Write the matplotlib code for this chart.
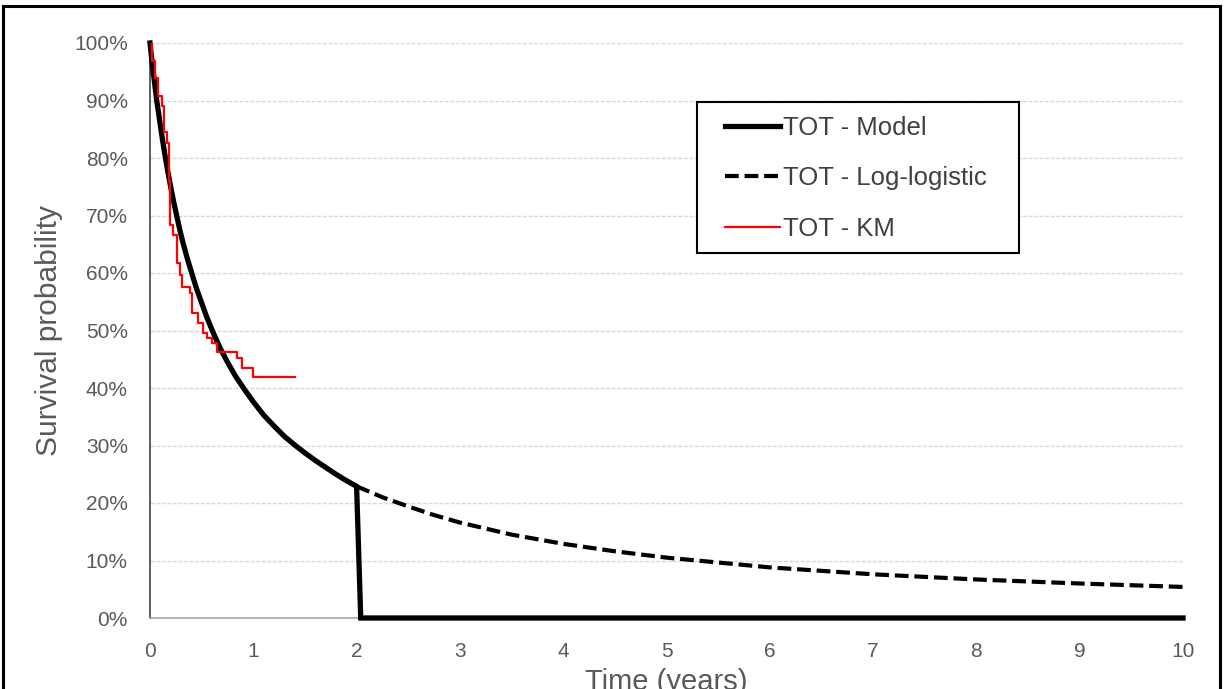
import matplotlib
matplotlib.use("Agg")
import matplotlib.pyplot as plt
from matplotlib.patches import Rectangle
from matplotlib.ticker import FuncFormatter

# Fitted model survival up to the end of follow-up (years, %)
model_time = [0, 0.015, 0.03, 0.045, 0.065, 0.08, 0.1, 0.12, 0.145, 0.17,
              0.2, 0.23, 0.258, 0.29, 0.32, 0.36, 0.4, 0.45, 0.5, 0.55,
              0.61, 0.68, 0.75, 0.83, 0.92, 1.0, 1.1, 1.2, 1.3, 1.4, 1.5,
              1.6, 1.7, 1.8, 1.9, 2.0, 2.04, 10.0]
model_surv = [100, 97.5, 95.2, 93.0, 90.0, 88.2, 85.7, 83.3, 80.5, 77.9,
              75.0, 72.3, 70.0, 67.4, 65.2, 62.6, 60.2, 57.3, 54.8, 52.3,
              49.7, 46.9, 44.5, 42.0, 39.6, 37.6, 35.3, 33.4, 31.6, 30.1, 28.7,
              27.4, 26.2, 25.0, 23.9, 22.9, 0.0, 0.0]

# Log-logistic extrapolation beyond two years (years, %)
loglog_time = [2.0, 2.25, 2.5, 2.75, 3.0, 3.5, 4.0, 4.5, 5.0, 6.0, 7.0, 8.0, 9.0, 10.0]
loglog_surv = [22.9, 21.0, 19.4, 17.9, 16.6, 14.5, 12.9, 11.6, 10.5, 8.8, 7.6, 6.7, 6.0, 5.4]

# Kaplan-Meier estimate (step times in years, survival %)
km_time = [0, 0.016, 0.05, 0.074, 0.113, 0.135, 0.16, 0.18, 0.19, 0.226,
           0.265, 0.29, 0.31, 0.387, 0.41, 0.468, 0.51, 0.55, 0.597, 0.645,
           0.84, 0.887, 1.0, 1.40]
km_surv = [100, 96.8, 94.0, 90.7, 89.0, 84.6, 82.6, 76.0, 68.3, 66.6,
           61.7, 59.6, 57.6, 56.5, 53.0, 51.3, 49.6, 48.7, 47.8, 46.3,
           45.2, 43.5, 42.0, 42.0]

x_ticks = list(range(0, 11))
y_ticks = list(range(0, 101, 10))

FONT = ["Liberation Sans Narrow", "Liberation Sans", "DejaVu Sans"]
TXT = "#595959"

W, H = 1224, 689
fig = plt.figure(figsize=(W / 100, H / 100), dpi=100)
fig.patch.set_facecolor("white")

# outer frame around the chart
fig.patches.append(Rectangle((3 / W, -0.05), (1220 - 3) / W, 1.05 - 6 / H,
                             transform=fig.transFigure, fill=False,
                             edgecolor="black", linewidth=2.2))

x0, x1, ytop, ybot = 150, 1183, 43, 618
ax = fig.add_axes([x0 / W, (H - ybot) / H, (x1 - x0) / W, (ybot - ytop) / H])
ax.set_xlim(0, 10)
ax.set_ylim(0, 100)

for s in ("top", "right"):
    ax.spines[s].set_visible(False)
ax.spines["left"].set_color("#404040")
ax.spines["left"].set_linewidth(1.2)
ax.spines["bottom"].set_color("#a6a6a6")
ax.spines["bottom"].set_linewidth(1.2)

ax.set_yticks(y_ticks)
ax.set_xticks(x_ticks)
ax.yaxis.set_major_formatter(FuncFormatter(lambda v, p: f"{int(v)}%"))
ax.tick_params(length=0, labelsize=15, labelcolor=TXT)
ax.tick_params(axis="y", pad=16)
ax.tick_params(axis="x", pad=17)
for lab in ax.get_xticklabels() + ax.get_yticklabels():
    lab.set_family(FONT)

ax.grid(axis="y", color="#d9d9d9", linewidth=1.0, linestyle=(0, (3, 1)))
ax.set_axisbelow(True)

ax.plot(loglog_time, loglog_surv, color="black", linewidth=3.0,
        linestyle=(0, (3.3, 1.4)), label="TOT - Log-logistic", zorder=3)
ax.plot(model_time, model_surv, color="black", linewidth=3.8,
        solid_joinstyle="miter", label="TOT - Model", zorder=4, clip_on=False)
ax.plot(km_time, km_surv, color="#ff0000", linewidth=1.6,
        drawstyle="steps-post", label="TOT - KM", zorder=5)

ax.set_ylabel("Survival probability", fontsize=21.5, color=TXT, family=FONT,
              labelpad=8)
ax.set_xlabel("Time (years)", fontsize=21, color=TXT, family=FONT,
              labelpad=5)

# legend box drawn separately so its padding can be set per side
box = Rectangle((697 / W, 1 - 253 / H), (1019 - 697) / W, (253 - 102) / H,
                transform=fig.transFigure, fill=True, facecolor="white",
                edgecolor="black", linewidth=1.5, zorder=10, clip_on=False)
ax.add_patch(box)

handles, labels = ax.get_legend_handles_labels()
order = [1, 0, 2]
leg = ax.legend([handles[i] for i in order], [labels[i] for i in order],
                loc="upper left", bbox_to_anchor=(725 / W, 1 - 116 / H),
                bbox_transform=fig.transFigure, borderaxespad=0,
                borderpad=0, frameon=False,
                handlelength=2.15, handletextpad=0.12,
                labelspacing=1.03, prop={"family": FONT, "size": 18.5})
leg.set_zorder(11)
for t in leg.get_texts():
    t.set_color("#404040")

fig.savefig("out.png", dpi=100)
